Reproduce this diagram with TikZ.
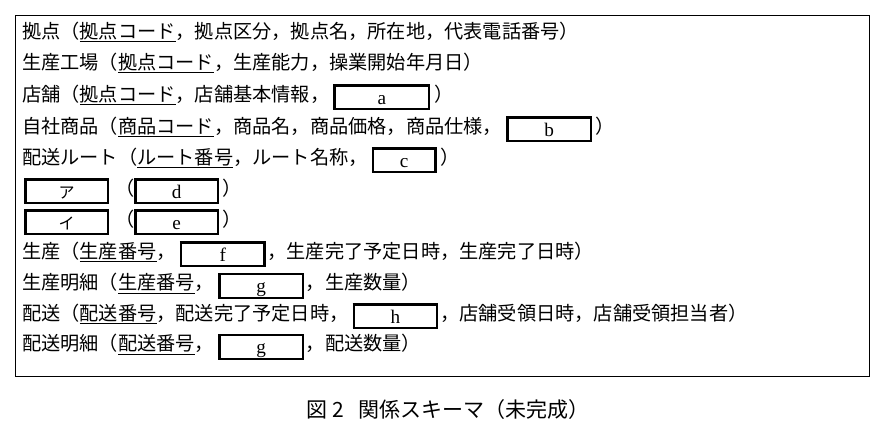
\documentclass[tikz,border=0pt]{standalone}
\usepackage{fontspec}
\setmainfont{Noto Sans CJK JP}
\newfontfamily\lat{Liberation Serif}
\newcommand{\bx}[2]{{\setlength{\fboxrule}{2.4pt}\setlength{\fboxsep}{0pt}\raisebox{-4pt}{\fbox{\rule[-2pt]{0pt}{21pt}\makebox[#1pt]{\raisebox{1pt}{#2}}}}}}
\begin{document}
\begin{tikzpicture}[x=1pt,y=-1pt,row/.style={anchor=west,inner sep=0pt,font=\fontsize{19.2}{20}\selectfont}]
\useasboundingbox (0,0) rectangle (887,423);
\node[draw,line width=0.8pt,minimum width=854,minimum height=361,anchor=north west,inner sep=0pt] (frame) at (15,15) {};
\node[row] (r1) at (22,32) {拠点（\underline{拠点コード}，拠点区分，拠点名，所在地，代表電話番号）};
\node[row] (r2) at (22,63) {生産工場（\underline{拠点コード}，生産能力，操業開始年月日）};
\node[row] (r3) at (22,97) {店舗（\underline{拠点コード}，店舗基本情報，\hspace{4pt}\bx{92}{\lat a}\hspace{4pt}）};
\node[row] (r4) at (22,129) {自社商品（\underline{商品コード}，商品名，商品価格，商品仕様，\hspace{4pt}\bx{81}{\lat b}\hspace{4pt}）};
\node[row] (r5) at (22,160) {配送ルート（\underline{ルート番号}，ルート名称，\hspace{4pt}\bx{60}{\lat c}\hspace{4pt}）};
\node[row] (r6) at (24,191) {\bx{80}{\fontsize{16}{17}\selectfont ア}\hspace{6pt}（\bx{80}{\lat d}\hspace{4pt}）};
\node[row] (r7) at (24,222) {\bx{80}{\fontsize{16}{17}\selectfont イ}\hspace{6pt}（\bx{80}{\lat e}\hspace{4pt}）};
\node[row] (r8) at (22,254) {生産（\underline{生産番号}，\hspace{4pt}\bx{81}{\lat f}\hspace{2pt}，生産完了予定日時，生産完了日時）};
\node[row] (r9) at (22,286) {生産明細（\underline{生産番号}，\hspace{4pt}\bx{81}{\lat g}\hspace{2pt}，生産数量）};
\node[row] (r10) at (22,316) {配送（\underline{配送番号}，配送完了予定日時，\hspace{4pt}\bx{81}{\lat h}\hspace{2pt}，店舗受領日時，店舗受領担当者）};
\node[row] (r11) at (22,347) {配送明細（\underline{配送番号}，\hspace{4pt}\bx{81}{\lat g}\hspace{2pt}，配送数量）};
\node[font=\fontsize{21}{22}\selectfont] (cap) at (448,410) {図 2\hspace{14pt}関係スキーマ（未完成）};
\end{tikzpicture}
\end{document}
